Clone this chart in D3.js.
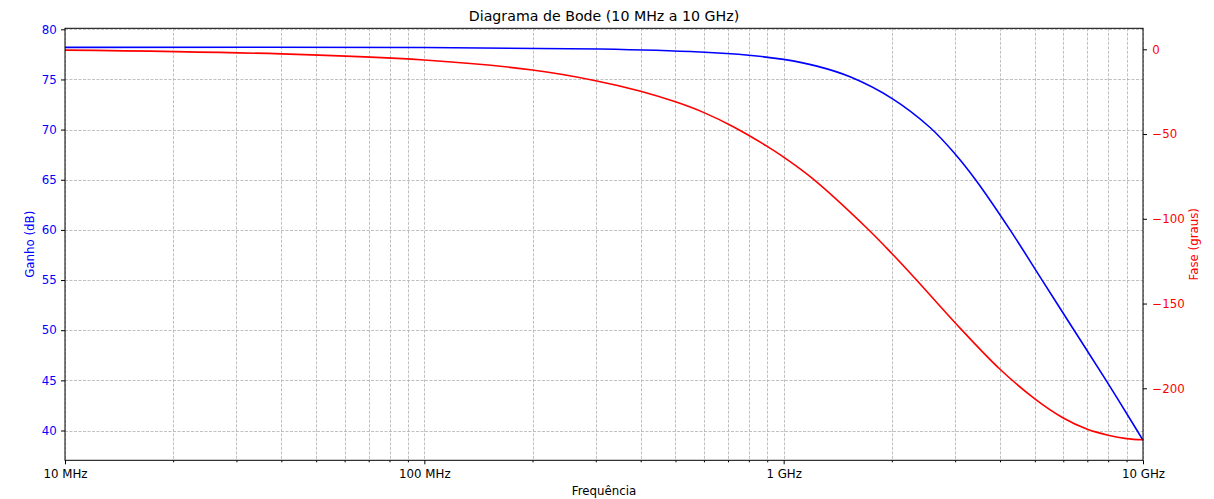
<!DOCTYPE html>
<html>
<head>
<meta charset="utf-8">
<script src="https://cdn.jsdelivr.net/npm/d3@7"></script>
<style>
  body { margin: 0; background: #fff; }
  text { font-family: "DejaVu Sans", sans-serif; }
</style>
</head>
<body>
<div id="chart"></div>
<script>
// gain curve (frequency in MHz, gain in dB)
const gainFreqMHz = [10, 100, 308, 585, 800, 1000, 1237, 1530, 2000, 2555, 3000, 3420, 4266, 5238, 6430, 7895, 9629, 10000];
const gainDb = [78.2, 78.18, 78.03, 77.73, 77.41, 77.0, 76.33, 75.27, 73.12, 70.21, 67.57, 65.0, 60.0, 55.0, 50.0, 45.0, 40.0, 39.02];

// phase curve (frequency in MHz, phase in degrees)
const phaseFreqMHz = [10, 40, 100, 200, 295, 400, 500, 600, 724, 900, 1000, 1209, 1706, 2000, 2322, 3097, 4000, 5000, 6000, 7000, 8000, 9000, 10000];
const phaseDeg = [-0.5, -2.7, -6.3, -12.2, -18.2, -24.7, -31.0, -37.35, -45.66, -57.29, -63.66, -76.64, -105.6, -120.47, -135.22, -164.5, -188.8, -206.2, -217.5, -224.2, -227.7, -229.7, -230.4];

// axis ticks
const xMajor = [10, 100, 1000, 10000];
const xMajorLabels = ["10 MHz", "100 MHz", "1 GHz", "10 GHz"];
const gainTicks = [40, 45, 50, 55, 60, 65, 70, 75, 80];
const phaseTicks = [-200, -150, -100, -50, 0];

const W = 1214, H = 499;
const pLeft = 65, pRight = 1143, pTop = 28.3, pBottom = 460.3;

const svg = d3.select("#chart").append("svg")
  .attr("width", W).attr("height", H);

const x = d3.scaleLog().domain([10, 10000]).range([pLeft, pRight]);
const yG = d3.scaleLinear().domain([37.03, 80.1]).range([pBottom, pTop]);
const yP = d3.scaleLinear().domain([-242.5, 12.4]).range([pBottom, pTop]);

// minor x positions
const xMinor = [];
[10, 100, 1000].forEach(function (d) {
  for (let k = 2; k <= 9; k++) xMinor.push(d * k);
});

const grid = svg.append("g")
  .attr("stroke", "#b0b0b0")
  .attr("stroke-width", 0.8)
  .attr("stroke-dasharray", "3,1.5");

grid.selectAll(".vg")
  .data(xMajor.concat(xMinor))
  .join("line")
  .attr("x1", d => Math.round(x(d)) + 0.5)
  .attr("x2", d => Math.round(x(d)) + 0.5)
  .attr("y1", pTop)
  .attr("y2", pBottom);

grid.selectAll(".hg")
  .data(gainTicks)
  .join("line")
  .attr("x1", pLeft)
  .attr("x2", pRight)
  .attr("y1", d => Math.round(yG(d)) + 0.5)
  .attr("y2", d => Math.round(yG(d)) + 0.5);

// curves
const gainLine = d3.line()
  .x(d => x(d[0]))
  .y(d => yG(d[1]))
  .curve(d3.curveCatmullRom.alpha(0.5));

const phaseLine = d3.line()
  .x(d => x(d[0]))
  .y(d => yP(d[1]))
  .curve(d3.curveCatmullRom.alpha(0.5));

svg.append("path")
  .datum(d3.zip(gainFreqMHz, gainDb))
  .attr("d", gainLine)
  .attr("fill", "none")
  .attr("stroke", "#0000ff")
  .attr("stroke-width", 1.6);

svg.append("path")
  .datum(d3.zip(phaseFreqMHz, phaseDeg))
  .attr("d", phaseLine)
  .attr("fill", "none")
  .attr("stroke", "#ff0000")
  .attr("stroke-width", 1.6);

// x axis
const xAxis = svg.append("g")
  .attr("transform", `translate(0, ${pBottom})`)
  .call(d3.axisBottom(x).tickValues(xMajor).tickSize(4).tickFormat((d, i) => xMajorLabels[i]));
xAxis.selectAll(".tick text").attr("font-size", 11.8).attr("fill", "#000").attr("dy", "0.9em");

svg.append("g")
  .attr("transform", `translate(0, ${pBottom})`)
  .call(d3.axisBottom(x).tickValues(xMinor).tickSize(2).tickFormat(""))
  .select(".domain").remove();

// left axis (gain)
const yAxisL = svg.append("g")
  .attr("transform", `translate(${pLeft}, 0)`)
  .call(d3.axisLeft(yG).tickValues(gainTicks).tickSize(4));
yAxisL.selectAll(".tick text").attr("font-size", 11.8).attr("fill", "#0000ff").attr("dx", "-0.1em");

// right axis (phase)
const yAxisR = svg.append("g")
  .attr("transform", `translate(${pRight}, 0)`)
  .call(d3.axisRight(yP).tickValues(phaseTicks).tickSize(4).tickFormat(d => d < 0 ? "\u2212" + Math.abs(d) : d));
yAxisR.selectAll(".tick text").attr("font-size", 11.8).attr("fill", "#ff0000").attr("dx", "0.2em");

[xAxis, yAxisL, yAxisR].forEach(a => a.select(".domain").remove());

// frame
svg.append("rect")
  .attr("x", pLeft).attr("y", pTop)
  .attr("width", pRight - pLeft).attr("height", pBottom - pTop)
  .attr("fill", "none")
  .attr("stroke", "#000")
  .attr("stroke-width", 1);

// title and labels
svg.append("text")
  .attr("x", (pLeft + pRight) / 2)
  .attr("y", 21)
  .attr("text-anchor", "middle")
  .attr("font-size", 14.2)
  .text("Diagrama de Bode (10 MHz a 10 GHz)");

svg.append("text")
  .attr("x", (pLeft + pRight) / 2)
  .attr("y", 495)
  .attr("text-anchor", "middle")
  .attr("font-size", 11.8)
  .text("Frequência");

svg.append("text")
  .attr("transform", `translate(34, ${(pTop + pBottom) / 2}) rotate(-90)`)
  .attr("text-anchor", "middle")
  .attr("font-size", 11.8)
  .attr("fill", "#0000ff")
  .text("Ganho (dB)");

svg.append("text")
  .attr("transform", `translate(1198, ${(pTop + pBottom) / 2}) rotate(-90)`)
  .attr("text-anchor", "middle")
  .attr("font-size", 11.8)
  .attr("fill", "#ff0000")
  .text("Fase (graus)");
</script>
</body>
</html>
